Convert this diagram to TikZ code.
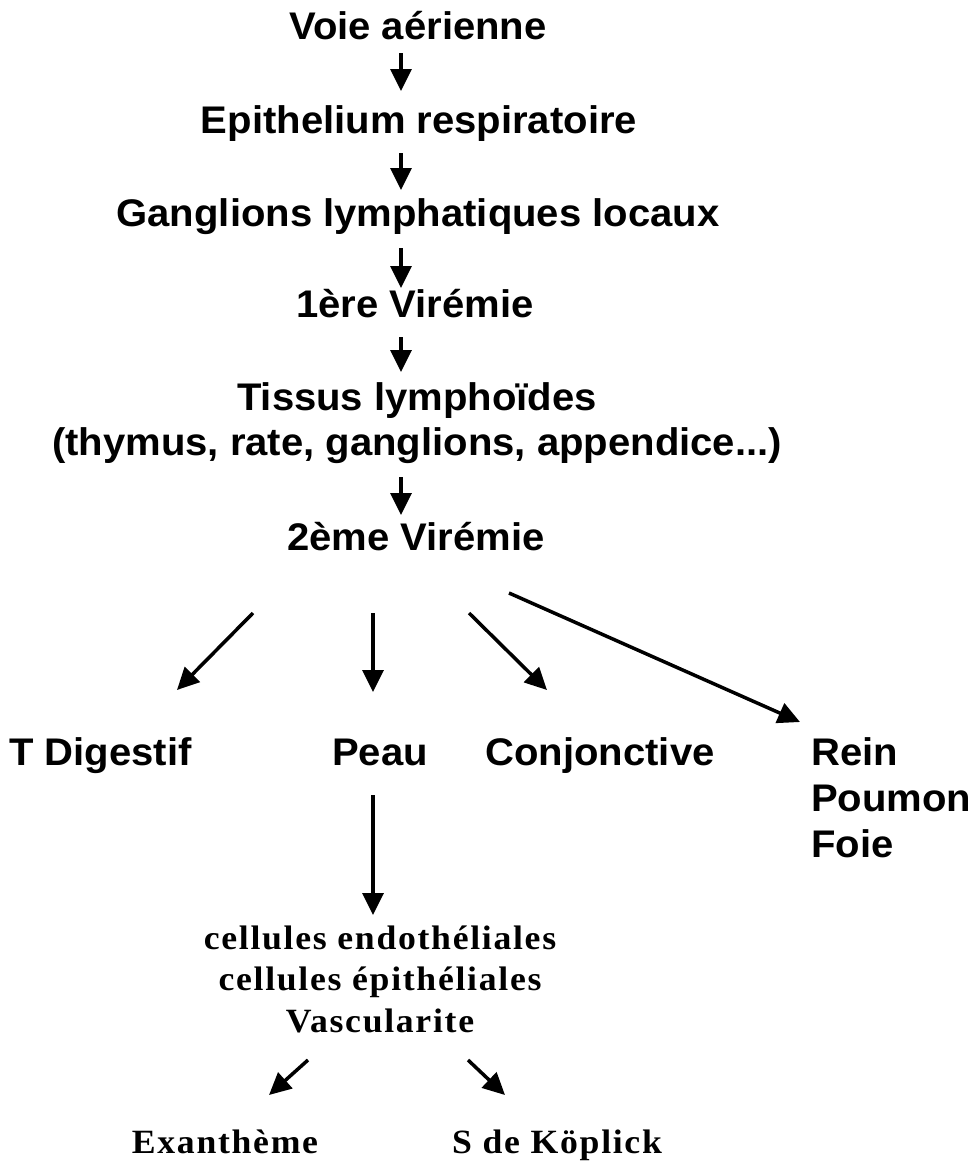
\documentclass[tikz,border=0pt]{standalone}
\usepackage{fontspec}
\usetikzlibrary{arrows.meta}
\newfontfamily\arb{Liberation Sans}[FakeStretch=1.04]
\newfontfamily\tmb{Liberation Serif}[FakeStretch=1.05,LetterSpace=5]
\begin{document}
\begin{tikzpicture}[x=1pt,y=-1pt,
  lbl/.style={inner sep=0pt,font=\arb\bfseries\fontsize{38.5}{43}\selectfont},
  slbl/.style={inner sep=0pt,font=\tmb\bfseries\fontsize{34}{41}\selectfont},
  arr/.style={line width=3.5pt,-{Triangle[length=22pt,width=21pt]}}]
\fill[white] (0,0) rectangle (974,1162);
\useasboundingbox (0,0) rectangle (974,1162);
% main chain
\node[lbl,anchor=base] (voie) at (418,39) {Voie aérienne};
\node[lbl,anchor=base] (epi) at (419,133) {Epithelium respiratoire};
\node[lbl,anchor=base] (gang) at (418,226) {Ganglions lymphatiques locaux};
\node[lbl,anchor=base] (vir1) at (415,317) {1ère Virémie};
\node[lbl,anchor=base] (tiss) at (417,410) {\vtop{\baselineskip=45pt\halign{\hfil#\hfil\cr Tissus lymphoïdes\cr (thymus, rate, ganglions, appendice...)\cr}}};
\node[lbl,anchor=base] (vir2) at (416,550) {2ème Virémie};
% organs
\node[lbl,anchor=base west] (tdig) at (9,765) {T Digestif};
\node[lbl,anchor=base] (peau) at (380,765) {Peau};
\node[lbl,anchor=base] (conj) at (600,765) {Conjonctive};
\node[lbl,anchor=base west] (rein) at (811,765) {\vtop{\baselineskip=46pt\hbox{Rein}\hbox{Poumon}\hbox{Foie}}};
% cells
\node[slbl,anchor=base] (cell) at (380,949) {\vtop{\baselineskip=41.5pt\halign{\hfil#\hfil\cr cellules endothéliales\cr cellules épithéliales\cr Vascularite\cr}}};
\node[slbl,anchor=base] (exan) at (225,1153) {Exanthème};
\node[slbl,anchor=base west] (kop) at (452,1153) {S de Köplick};
% arrows
\draw[arr] ([shift={(-17,14)}]voie.base) -- ([shift={(-18,-42)}]epi.base);
\draw[arr] ([shift={(-18,20)}]epi.base) -- ([shift={(-17,-36)}]gang.base);
\draw[arr] ([shift={(-17,22)}]gang.base) -- ([shift={(-14,-29)}]vir1.base);
\draw[arr] ([shift={(-14,20)}]vir1.base) -- ([shift={(-16,-38)}]tiss.base);
\draw[arr] ([shift={(-16,67)}]tiss.base) -- ([shift={(-15,-35)}]vir2.base);
\draw[arr] ([shift={(-163,63)}]vir2.base) -- ([shift={(168,-75)}]tdig.base west);
\draw[arr] ([shift={(-43,63)}]vir2.base) -- ([shift={(-7,-73)}]peau.base);
\draw[arr] ([shift={(53,63)}]vir2.base) -- ([shift={(-53,-75)}]conj.base);
\draw[arr] ([shift={(93,43)}]vir2.base) -- ([shift={(-11,-43)}]rein.base west);
\draw[arr] ([shift={(-7,30)}]peau.base) -- ([shift={(-7,-34)}]cell.base);
\draw[arr] ([shift={(-72,111)}]cell.base) -- ([shift={(44,-58)}]exan.base);
\draw[arr] ([shift={(88,111)}]cell.base) -- ([shift={(53,-58)}]kop.base west);
\end{tikzpicture}
\end{document}
